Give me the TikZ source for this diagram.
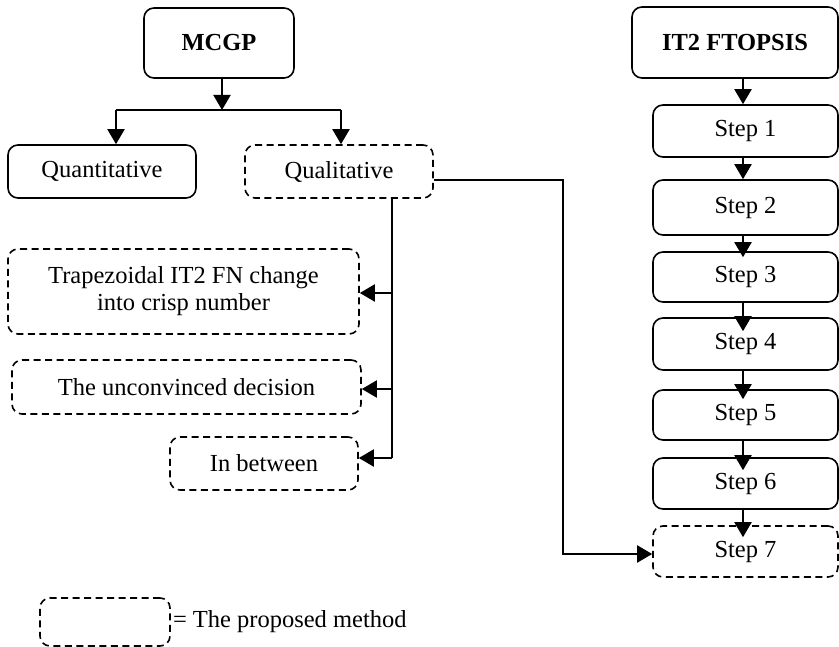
\documentclass[tikz,border=0pt]{standalone}
\usepackage{fontspec}
\setmainfont{Liberation Serif}
\usetikzlibrary{arrows.meta}
\begin{document}
\begin{tikzpicture}[x=1pt,y=1pt,
  every node/.style={font=\fontsize{24.5}{27}\selectfont},
  box/.style={draw, line width=1.6pt, rounded corners=10pt, inner sep=0pt, align=center},
  newbox/.style={box, dash pattern=on 7pt off 4.5pt},
  link/.style={line width=2pt},
  arr/.style={line width=2pt, -{Triangle[length=15pt,width=17pt]}}]
\useasboundingbox (0,0) rectangle (839,-647);

% left tree
\node[box, minimum width=150pt, minimum height=70pt, font=\fontsize{24.5}{27}\selectfont\bfseries] (mcgp) at (219,-43) {MCGP};
\node[box, minimum width=188pt, minimum height=53pt] (quant) at (102,-171.5) {Quantitative};
\node[newbox, minimum width=188pt, minimum height=53pt] (qual) at (339,-171.5) {Qualitative};
\node[newbox, minimum width=351pt, minimum height=85pt] (trap) at (183.5,-291.5) {Trapezoidal IT2 FN change\\into crisp number};
\node[newbox, minimum width=349pt, minimum height=54pt] (unconv) at (186.5,-387) {The unconvinced decision};
\node[newbox, minimum width=188pt, minimum height=53pt] (betw) at (264,-463.5) {In between};

% right chain
\node[box, minimum width=206pt, minimum height=71pt, font=\fontsize{24.5}{27}\selectfont\bfseries] (topsis) at (735,-42.5) {IT2 FTOPSIS};
\node[box, minimum width=185pt, minimum height=52pt] (s1) at (745.5,-131) {Step 1};
\node[box, minimum width=185pt, minimum height=55pt] (s2) at (745.5,-207.5) {Step 2};
\node[box, minimum width=185pt, minimum height=50pt] (s3) at (745.5,-277) {Step 3};
\node[box, minimum width=185pt, minimum height=52pt] (s4) at (745.5,-344) {Step 4};
\node[box, minimum width=185pt, minimum height=50pt] (s5) at (745.5,-415) {Step 5};
\node[box, minimum width=185pt, minimum height=51pt] (s6) at (745.5,-483.5) {Step 6};
\node[newbox, minimum width=185pt, minimum height=51pt] (s7) at (745.5,-551.5) {Step 7};

% legend
\node[newbox, minimum width=130pt, minimum height=48pt] (legbox) at (105,-622) {};
\node[anchor=west, inner sep=0pt] (legtext) at ([xshift=2pt]legbox.east) {= The proposed method};

% junction points
\coordinate (split) at (222,-110);
\coordinate (qa) at (116,-110);
\coordinate (qb) at (341,-110);
\coordinate (trunk) at (392,-171.5);
\coordinate (bend) at (563,-180);
\coordinate (col) at (743,0);

% MCGP split
\draw[arr] (mcgp.south -| split) -- (split);
\draw[link] (qa) -- (qb);
\draw[arr] (qa) -- (qa |- quant.north);
\draw[arr] (qb) -- (qb |- qual.north);

% Qualitative branches
\draw[link] (trunk |- qual.south) -- (392,-458);
\draw[arr] (392,-293) -- (trap.east |- 0,-293);
\draw[arr] (392,-389) -- (unconv.east |- 0,-389);
\draw[arr] (392,-458) -- (betw.east |- 0,-458);

% Qualitative to Step 7
\draw[arr] (qual.east |- bend) -- (bend) -- (bend |- 0,-554) -- (s7.west |- 0,-554);

% TOPSIS steps (tips reach a little into the lower boxes)
\foreach \a/\b/\d in {topsis/s1/0, s1/s2/0, s2/s3/6, s3/s4/14, s4/s5/10, s5/s6/13, s6/s7/12} {
  \path (col |- \b.north) ++(0,-\d) coordinate (tip);
  \draw[arr] (col |- \a.south) -- (tip);
}
\end{tikzpicture}
\end{document}
